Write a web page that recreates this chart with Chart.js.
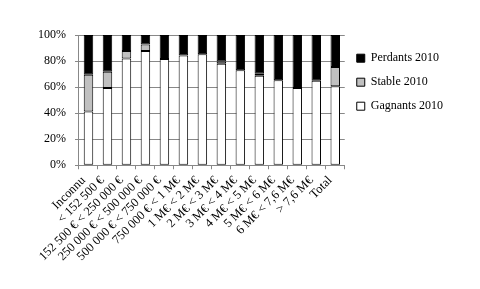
<!DOCTYPE html>
<html>
<head>
<meta charset="utf-8">
<script src="https://cdn.jsdelivr.net/npm/chart.js@4/dist/chart.umd.min.js"></script>
<style>
  html, body { margin: 0; padding: 0; background: #fff; }
  #wrap { width: 480px; height: 289px; }
</style>
</head>
<body>
<div id="wrap"><canvas id="bar-chart"></canvas></div>
<script>
// categories de patrimoine
const categories = [
  "Inconnu",
  "< 152 500 €",
  "152 500 € < 250 000 €",
  "250 000 € < 500 000 €",
  "500 000 € < 750 000 €",
  "750 000 € < 1 M€",
  "1 M€ < 2 M€",
  "2 M€ < 3 M€",
  "3 M€ < 4 M€",
  "4 M€ < 5 M€",
  "5 M€ < 6 M€",
  "6 M€ < 7,6 M€",
  "> 7,6 M€",
  "Total",
];

// parts en %
const gagnants = [41.3, 59.4, 81.9, 87.8, 81.6, 84.2, 85.2, 78, 73, 68.7, 65.3, 59.4, 64.8, 60.6];
const stables = [28.2, 12.4, 5.9, 5, 0, 0, 0, 1.6, 0, 1.5, 0, 0, 0, 14.8];
const perdants = [30.5, 28.2, 12.2, 7.2, 18.4, 15.8, 14.8, 20.4, 27, 29.8, 34.7, 40.6, 35.2, 24.6];

const yTicks = [0, 20, 40, 60, 80, 100];

const gridColor = "#888";

const ctx = document.querySelector("#bar-chart").getContext("2d");

const barChart = new Chart(ctx, {
  type: "bar",
  data: {
    labels: categories,
    datasets: [
      {
        label: "Gagnants 2010",
        data: gagnants,
        backgroundColor: "#ffffff",
      },
      {
        label: "Stable 2010",
        data: stables,
        backgroundColor: "#c0c0c0",
      },
      {
        label: "Perdants 2010",
        data: perdants,
        backgroundColor: "#000000",
      },
    ],
  },
  options: {
    responsive: true,
    maintainAspectRatio: false,
    animation: false,
    datasets: {
      bar: {
        borderColor: "#000",
        borderWidth: 1,
        borderSkipped: false,
        barPercentage: 0.5,
        categoryPercentage: 1,
      },
    },
    layout: { padding: { left: 29, top: 35, right: 30, bottom: 21 } },
    scales: {
      x: {
        stacked: true,
        grid: {
          offset: true,
          drawOnChartArea: false,
          color: gridColor,
          tickLength: 4,
        },
        border: { color: gridColor },
        ticks: {
          color: "#000",
          font: { family: "Liberation Serif", size: 12.5 },
          minRotation: 45,
          maxRotation: 45,
          autoSkip: false,
          padding: 4,
          labelOffset: -5,
        },
      },
      y: {
        stacked: true,
        min: 0,
        max: 100,
        afterBuildTicks: (axis) => {
          axis.ticks = yTicks.map((v) => ({ value: v }));
        },
        grid: { color: gridColor, tickLength: 4 },
        border: { color: gridColor },
        ticks: {
          color: "#000",
          font: { family: "Liberation Serif", size: 12 },
          padding: 9,
          callback: (v) => v + "%",
        },
      },
    },
    plugins: {
      legend: {
        position: "right",
        align: "start",
        reverse: true,
        title: { display: true, text: "", font: { size: 1 }, padding: 2 },
        labels: {
          color: "#000",
          font: { family: "Liberation Serif", size: 12 },
          boxWidth: 8,
          boxHeight: 8,
          padding: 12,
        },
      },
      tooltip: { enabled: false },
    },
  },
});
</script>
</body>
</html>
